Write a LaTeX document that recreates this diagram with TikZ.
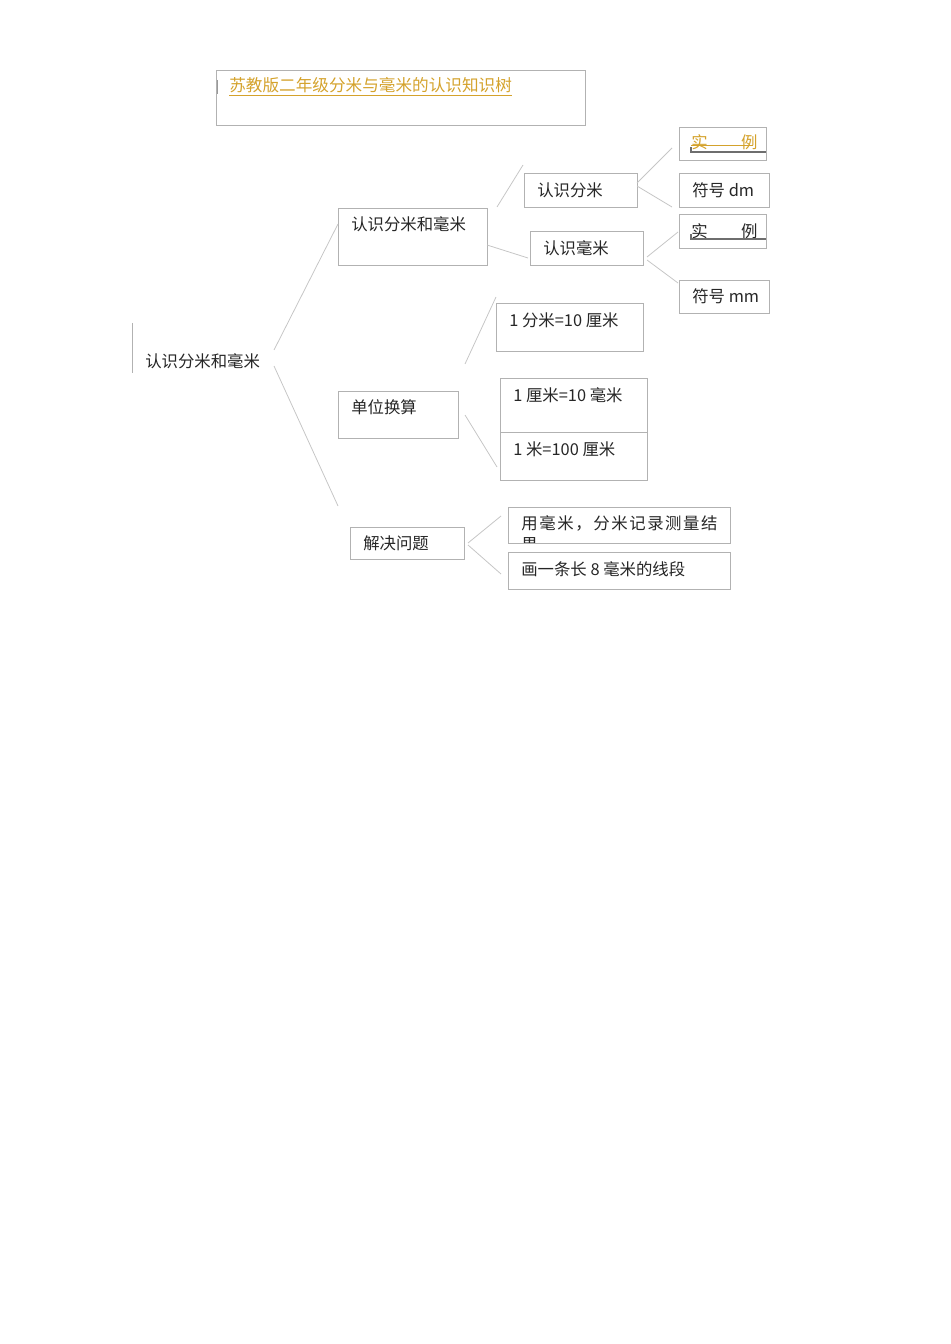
\documentclass[tikz,border=0pt]{standalone}
\usepackage{fontspec}
\setmainfont{Noto Sans CJK SC}
\usepackage{xcolor}
\usetikzlibrary{fit}
\definecolor{boxgray}{HTML}{B2B2B2}
\definecolor{linkgray}{HTML}{C6C6C6}
\definecolor{titlegold}{HTML}{D4A22C}
\definecolor{bargray}{HTML}{6E6E6E}
% box from two corners, in picture units
\newcommand{\kbox}[5]{%
  \coordinate (#1-nw) at (#2,#3);
  \coordinate (#1-se) at (#4,#5);
  \node[box, fit=(#1-nw)(#1-se)] (#1) {};}

\begin{document}
\begin{tikzpicture}[x=0.0221cm, y=-0.0221cm,
    box/.style={draw=boxgray, line width=0.6pt, inner sep=0pt},
    txt/.style={anchor=west, inner sep=0pt, text=black!85,
      font=\fontsize{10.3}{12}\selectfont},
    link/.style={draw=linkgray, line width=0.5pt},
    bar/.style={draw=bargray, line width=0.8pt}]
    \useasboundingbox (0,0) rectangle (950,1344);

    % title
    \kbox{title}{216}{70}{585}{125}
    \node[txt, text=titlegold, font=\fontsize{10.45}{12}\selectfont] (tTitle) at (229,87) {\underline{苏教版二年级分米与毫米的认识知识树}};
    \draw[draw=bargray!70, line width=0.5pt] (217,80) -- (217,94);

    % root
    \node[txt] (tRoot) at (145,361) {认识分米和毫米};
    \draw[draw=boxgray, line width=0.6pt] (132,323) -- (132,373);

    % first level
    \kbox{know}{338}{208}{487}{265}
    \node[txt] (tKnow) at (351,224) {认识分米和毫米};
    \kbox{conv}{338}{391}{458}{438}
    \node[txt] (tConv) at (351,407) {单位换算};
    \kbox{solve}{350}{527}{464}{559}
    \node[txt] (tSolve) at (363,543) {解决问题};

    % second level under know
    \kbox{dm}{524}{173}{637}{207}
    \node[txt] (tDm) at (537,190) {认识分米};
    \kbox{mm}{530}{231}{643}{265}
    \node[txt] (tMm) at (543,248) {认识毫米};

    \kbox{dmEx}{679}{127}{766}{160}
    \node[txt, text=titlegold] (tDmEx) at (691,142) {实\hspace{21pt}例};
    \draw[draw=titlegold, line width=0.6pt] (691,145.5) -- (753,145.5);
    \draw[bar] (691,152) -- (766,152);
    \draw[bar] (691,147) -- (691,153);
    \kbox{dmSym}{679}{173}{769}{207}
    \node[txt] (tDmSym) at (692,190) {符号 dm};
    \kbox{mmEx}{679}{214}{766}{248}
    \node[txt] (tMmEx) at (691,231) {实\hspace{21pt}例};
    \draw[bar] (691,239) -- (766,239);
    \draw[bar] (691,234) -- (691,240);
    \kbox{mmSym}{679}{280}{769}{313}
    \node[txt] (tMmSym) at (692,296) {符号 mm};

    % second level under conv
    \kbox{convA}{496}{303}{643}{351}
    \node[txt] (tConvA) at (509,320) {1 分米=10 厘米};
    \kbox{convB}{500}{378}{647}{480}
    \draw[box] (500,432) -- (647,432);
    \node[txt] (tConvB) at (513,395) {1 厘米=10 毫米};
    \node[txt] (tConvC) at (513,449) {1 米=100 厘米};

    % second level under solve
    \kbox{solveA}{508}{507}{730}{543}
    \node[txt] (tSolveA) at (521,523) {\makebox[123.4pt][s]{用\hfil 毫\hfil 米\hfil ，\hfil 分\hfil 米\hfil 记\hfil 录\hfil 测\hfil 量\hfil 结}};
    \begin{scope}
      \clip (508,507) rectangle (730,542.5);
      \node[txt] (tSolveA2) at (521,545) {果};
    \end{scope}
    \kbox{solveB}{508}{552}{730}{589}
    \node[txt] (tSolveB) at (521,569) {画一条长 8 毫米的线段};

    % connector ends
    \coordinate (r1) at (274,350);   \coordinate (k1) at (338,224);
    \coordinate (r2) at (274,366);   \coordinate (s1) at (338,506);
    \coordinate (k2) at (497,207);   \coordinate (d1) at (523,165);
    \coordinate (k3) at (487,245);   \coordinate (m1) at (528,258);
    \coordinate (d2) at (637,183);   \coordinate (de) at (672,148);
    \coordinate (d3) at (637,186);   \coordinate (ds) at (672,207);
    \coordinate (m2) at (647,257);   \coordinate (me) at (678,232);
    \coordinate (m3) at (647,260);   \coordinate (ms) at (678,283);
    \coordinate (c1) at (465,364);   \coordinate (ca) at (496,297);
    \coordinate (c2) at (465,415);   \coordinate (cb) at (497,467);
    \coordinate (v1) at (468,543);   \coordinate (va) at (501,516);
    \coordinate (v2) at (468,545);   \coordinate (vb) at (501,574);

    \draw[link] (r1) -- (k1);
    \draw[link] (r2) -- (s1);
    \draw[link] (k2) -- (d1);
    \draw[link] (k3) -- (m1);
    \draw[link] (d2) -- (de);
    \draw[link] (d3) -- (ds);
    \draw[link] (m2) -- (me);
    \draw[link] (m3) -- (ms);
    \draw[link] (c1) -- (ca);
    \draw[link] (c2) -- (cb);
    \draw[link] (v1) -- (va);
    \draw[link] (v2) -- (vb);
\end{tikzpicture}
\end{document}
